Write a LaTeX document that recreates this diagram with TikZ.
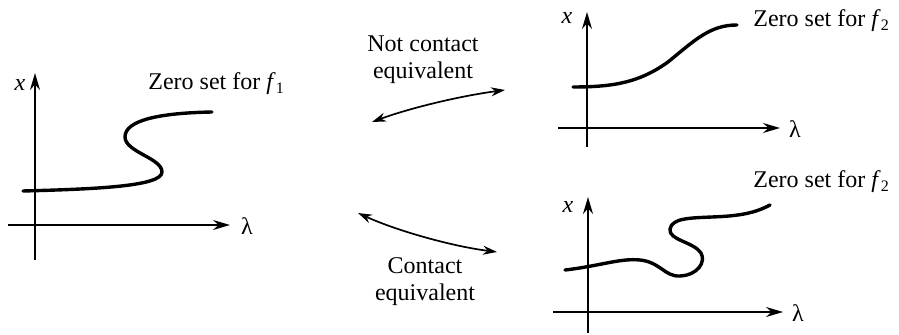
\documentclass[tikz,border=0pt]{standalone}
\usepackage{fontspec}
\setmainfont{Liberation Serif}
\usetikzlibrary{arrows.meta}
\tikzset{
  axisline/.style={line width=0.85pt, -{Stealth[length=8.5pt,width=5pt]}},
  zcurve/.style={line width=1.7pt, line cap=round},
  equivarrow/.style={line width=0.85pt, {Stealth[length=7pt,width=4.5pt]}-{Stealth[length=7pt,width=4.5pt]}},
  lbl/.style={inner sep=0pt, font=\fontsize{12}{13.5}\selectfont},
}
\newcommand{\zs}[1]{Zero set for \textit{f}\textsubscript{#1}}
\begin{document}
\begin{tikzpicture}[x=0.5pt, y=-0.5pt]
\useasboundingbox (0,0) rectangle (899,335);
% ---- panel 1 (left)
\coordinate (v1b) at (35,260); \coordinate (v1t) at (35,73);
\coordinate (h1l) at (8,225);  \coordinate (h1r) at (230,225);
\draw[axisline] (v1b) -- (v1t);
\draw[axisline] (h1l) -- (h1r);
\node[lbl] (x1) at (20,85) {\textit{x}};
\node[lbl] (l1) at (247,226) {λ};
\node[lbl, anchor=base west] (z1) at (148,90) {\zs{1}};
\draw[zcurve] (23,191) .. controls (100,189) and (162,186) .. (162,172)
  .. controls (162,158) and (125,152) .. (125,137)
  .. controls (125,120) and (160,113) .. (212,112);
% ---- panel 2 (upper right)
\coordinate (v2b) at (587,147); \coordinate (v2t) at (587,12);
\coordinate (h2l) at (558,128); \coordinate (h2r) at (780,128);
\draw[axisline] (v2b) -- (v2t);
\draw[axisline] (h2l) -- (h2r);
\node[lbl] (x2) at (567,18) {\textit{x}};
\node[lbl] (l2) at (795,129) {λ};
\node[lbl, anchor=base west] (z2) at (753,27) {\zs{2}};
\draw[zcurve] (573,87) .. controls (615,87) and (640,82) .. (668,62)
  .. controls (695,40) and (710,25) .. (737,25);
% ---- panel 3 (lower right)
\coordinate (v3b) at (588,333); \coordinate (v3t) at (588,197);
\coordinate (h3l) at (553,312); \coordinate (h3r) at (783,312);
\draw[axisline] (v3b) -- (v3t);
\draw[axisline] (h3l) -- (h3r);
\node[lbl] (x3) at (568,207) {\textit{x}};
\node[lbl] (l3) at (798,313) {λ};
\node[lbl, anchor=base west] (z3) at (753,188) {\zs{2}};
\draw[zcurve] (565,270) .. controls (600,266) and (620,258) .. (640,260)
  .. controls (660,262) and (665,277) .. (680,276)
  .. controls (698,275) and (706,262) .. (701,253)
  .. controls (694,242) and (668,240) .. (670,229)
  .. controls (672,218) and (690,218) .. (712,217)
  .. controls (740,216) and (755,213) .. (770,205);
% ---- equivalence arrows
\coordinate (a1) at (372,122); \coordinate (a2) at (505,90);
\draw[equivarrow] (a1) .. controls (410,108) and (460,96) .. (a2);
\node[lbl, align=center] (nce) at (423,60) {Not contact\\equivalent};
\coordinate (b1) at (358,213); \coordinate (b2) at (497,252);
\draw[equivarrow] (b1) .. controls (395,230) and (450,246) .. (b2);
\node[lbl, align=center] (ce) at (425,282) {Contact\\equivalent};
\end{tikzpicture}
\end{document}
